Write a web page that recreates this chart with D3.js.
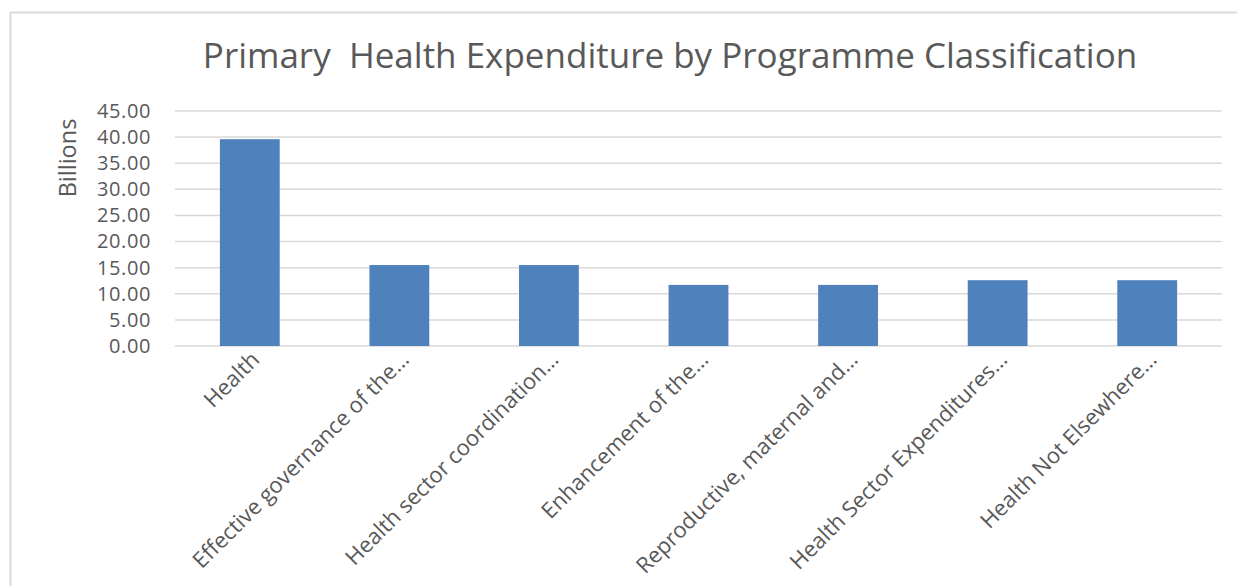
<!DOCTYPE html>
<html><head><meta charset="utf-8">
<script src="https://cdn.jsdelivr.net/npm/d3@7"></script>
<style>body{margin:0;background:#fff;}svg{display:block;}</style>
</head><body>
<svg id="c" width="1237" height="586"></svg>
<script>
const categories = ["Health","Effective governance of the\u2026","Health sector coordination\u2026","Enhancement of the\u2026","Reproductive, maternal and\u2026","Health Sector Expenditures\u2026","Health Not Elsewhere\u2026"];
const values = [39.6, 15.5, 15.5, 11.7, 11.7, 12.6, 12.6];
const yTicks = [0,5,10,15,20,25,30,35,40,45];
const title = "Primary  Health Expenditure by Programme Classification";
const yTitle = "Billions";

const svg = d3.select("#c");
const font = "'Open Sans', sans-serif";
const textCol = "#595959";
// chart border
svg.append("rect").attr("x",10.5).attr("y",12.5).attr("width",1300).attr("height",700)
  .attr("fill","none").attr("stroke","#d9d9d9").attr("stroke-width",2);

const L=175, R=1222, T=111, B=346;
const x = d3.scaleBand().domain(categories).range([L,R]).paddingInner(0.6).paddingOuter(0.3);
const y = d3.scaleLinear().domain([0,45]).range([B,T]);

// gridlines
svg.append("g").selectAll("line").data(yTicks).join("line")
  .attr("x1",L).attr("x2",R).attr("y1",d=>y(d)).attr("y2",d=>y(d))
  .attr("stroke","#d9d9d9").attr("stroke-width",1.5);

// y axis labels
const yAxis = d3.axisLeft(y).tickValues(yTicks).tickFormat(d3.format(".2f")).tickSize(0).tickPadding(0);
const ya = svg.append("g").attr("transform",`translate(151,0)`).call(yAxis);
ya.select(".domain").remove();
ya.attr("font-family",font).attr("font-size",20);
ya.selectAll("text").attr("fill",textCol).style("letter-spacing","0.6px");

// bars
svg.append("g").selectAll("rect").data(values).join("rect")
  .attr("x",(d,i)=>x(categories[i])).attr("width",x.bandwidth())
  .attr("y",d=>y(d)).attr("height",d=>B-y(d))
  .attr("fill","#4f81bd");

// x axis labels
const xAxis = d3.axisBottom(x).tickSize(0).tickPadding(0);
const xa = svg.append("g").attr("transform",`translate(0,${B})`).call(xAxis);
xa.select(".domain").remove();
xa.attr("font-family",font).attr("font-size",22);
xa.selectAll("text").attr("fill",textCol)
  .attr("text-anchor","end").attr("dy",0)
  .attr("transform","translate(11,15) rotate(-45)");

// title
svg.append("text").attr("x",670).attr("y",68).attr("text-anchor","middle")
  .attr("font-family",font).attr("font-size",35).attr("fill",textCol).style("white-space","pre").text(title);

// y title
svg.append("text").attr("transform","translate(76,158) rotate(-90)").attr("text-anchor","middle")
  .attr("font-family",font).attr("font-size",23.5).attr("fill",textCol).text(yTitle);
</script>
</body></html>
